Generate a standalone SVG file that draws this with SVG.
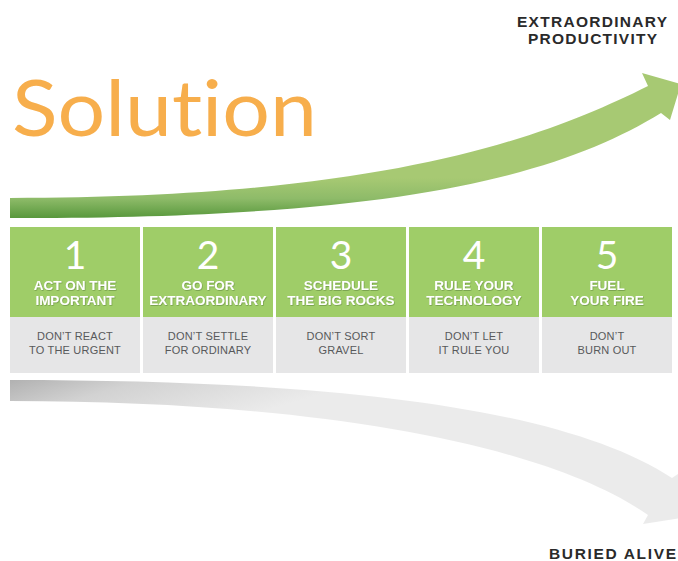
<svg xmlns="http://www.w3.org/2000/svg" width="678" height="561" viewBox="0 0 678 561">
<style>
.num{font-family:Lato,"Liberation Sans",sans-serif;font-weight:400;font-size:39px;fill:#ffffff;text-anchor:middle}
.ttl{font-family:"Liberation Sans",Arial,sans-serif;font-weight:bold;font-size:13.5px;fill:#ffffff;text-anchor:middle;filter:url(#sh)}
.sub{font-family:"Liberation Sans",Arial,sans-serif;font-size:11px;fill:#58595b;text-anchor:middle;letter-spacing:0.2px}
.lbl{font-family:"Liberation Sans",Arial,sans-serif;font-weight:bold;font-size:15.5px;fill:#2a2a2a}
.gt{fill:#9fcd68}
.gb{fill:#e6e6e7}
</style>
<defs>
<linearGradient id="gg" gradientUnits="userSpaceOnUse" x1="0" y1="219" x2="0" y2="178">
<stop offset="0" stop-color="#55963a"/>
<stop offset="0.5" stop-color="#8ebb69"/>
<stop offset="1" stop-color="#a7c973"/>
</linearGradient>
<linearGradient id="gr" gradientUnits="userSpaceOnUse" x1="0" y1="378" x2="30" y2="480">
<stop offset="0" stop-color="#adadad"/>
<stop offset="0.4" stop-color="#d2d2d2"/>
<stop offset="1" stop-color="#ebebeb"/>
</linearGradient>
<filter id="sh" x="-10%" y="-30%" width="120%" height="160%">
<feDropShadow dx="0.6" dy="0.8" stdDeviation="0.4" flood-color="#3a5a20" flood-opacity="0.45"/>
</filter>
</defs>
<rect width="678" height="561" fill="#ffffff"/>

<g id="title">
<text x="12" y="136" font-family="Lato, 'Liberation Sans', sans-serif" font-weight="400" font-size="78" fill="#f7ae4c" textLength="305" lengthAdjust="spacingAndGlyphs" style="font-variant-ligatures:none">Solution</text>
</g>

<g id="connectors">
<path id="up-arrow" d="M10,198 C380,198 540,140 648,86 L642,73 L681,84 L670,120 L661,113 C560,175 400,219 10,218 Z" fill="url(#gg)"/>
<path id="down-arrow" d="M10,380 C320,380 560,405 672,478 L684,470 L700,515 L643,524 L648,515 C540,440 300,401 10,401 Z" fill="url(#gr)"/>
</g>

<g id="label-top">
<text class="lbl" x="517" y="27" textLength="150">EXTRAORDINARY</text>
<text class="lbl" x="528" y="44" textLength="129">PRODUCTIVITY</text>
</g>
<g id="label-bottom">
<text class="lbl" x="549" y="559" textLength="127">BURIED ALIVE</text>
</g>

<g id="step1">
<rect class="gt" x="10" y="227" width="130" height="90"/>
<rect class="gb" x="10" y="317" width="130" height="56"/>
<text class="num" x="75" y="269">1</text>
<text class="ttl" x="75" y="290">ACT ON THE</text>
<text class="ttl" x="75" y="305">IMPORTANT</text>
<text class="sub" x="75" y="340">DON’T REACT</text>
<text class="sub" x="75" y="354">TO THE URGENT</text>
</g>
<g id="step2">
<rect class="gt" x="143" y="227" width="130" height="90"/>
<rect class="gb" x="143" y="317" width="130" height="56"/>
<text class="num" x="208" y="269">2</text>
<text class="ttl" x="208" y="290">GO FOR</text>
<text class="ttl" x="208" y="305">EXTRAORDINARY</text>
<text class="sub" x="208" y="340">DON’T SETTLE</text>
<text class="sub" x="208" y="354">FOR ORDINARY</text>
</g>
<g id="step3">
<rect class="gt" x="276" y="227" width="130" height="90"/>
<rect class="gb" x="276" y="317" width="130" height="56"/>
<text class="num" x="341" y="269">3</text>
<text class="ttl" x="341" y="290">SCHEDULE</text>
<text class="ttl" x="341" y="305">THE BIG ROCKS</text>
<text class="sub" x="341" y="340">DON’T SORT</text>
<text class="sub" x="341" y="354">GRAVEL</text>
</g>
<g id="step4">
<rect class="gt" x="409" y="227" width="130" height="90"/>
<rect class="gb" x="409" y="317" width="130" height="56"/>
<text class="num" x="474" y="269">4</text>
<text class="ttl" x="474" y="290">RULE YOUR</text>
<text class="ttl" x="474" y="305">TECHNOLOGY</text>
<text class="sub" x="474" y="340">DON’T LET</text>
<text class="sub" x="474" y="354">IT RULE YOU</text>
</g>
<g id="step5">
<rect class="gt" x="542" y="227" width="130" height="90"/>
<rect class="gb" x="542" y="317" width="130" height="56"/>
<text class="num" x="607" y="269">5</text>
<text class="ttl" x="607" y="290">FUEL</text>
<text class="ttl" x="607" y="305">YOUR FIRE</text>
<text class="sub" x="607" y="340">DON’T</text>
<text class="sub" x="607" y="354">BURN OUT</text>
</g>
</svg>
